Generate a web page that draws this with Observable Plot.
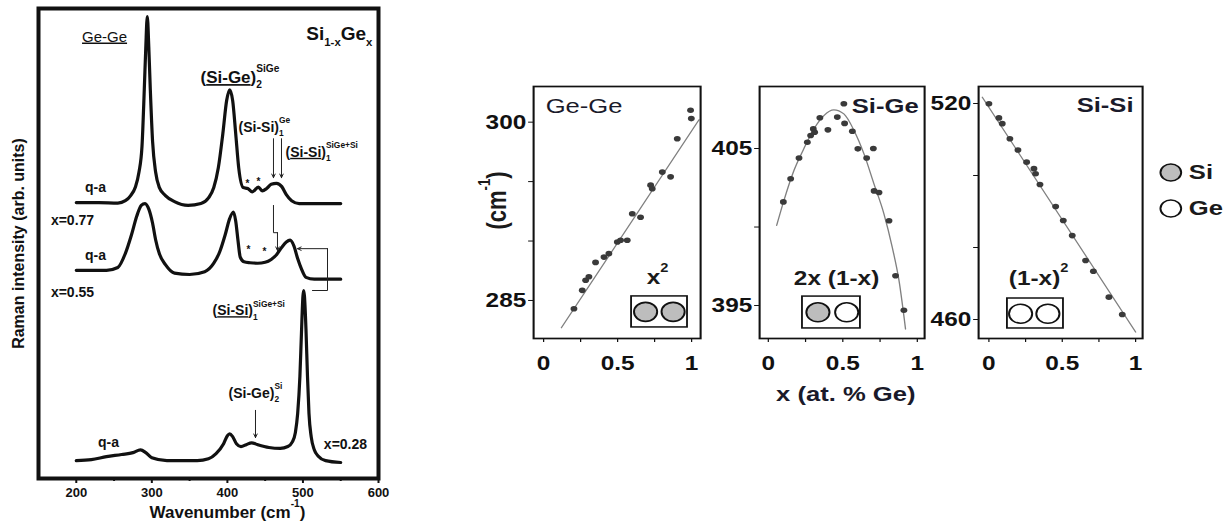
<!DOCTYPE html>
<html><head><meta charset="utf-8">
<script src="https://cdn.jsdelivr.net/npm/d3@7"></script>
<script src="https://cdn.jsdelivr.net/npm/@observablehq/plot@0.6"></script>
<style>
html,body{margin:0;padding:0;background:#fff;}
#fig{position:relative;width:1225px;height:527px;overflow:hidden;background:#fff;}
</style></head>
<body><div id="fig"></div>
<script>
// ---------- Left: Raman spectra of Si(1-x)Ge(x) ----------
const specLabels = ["x=0.77", "x=0.55", "x=0.28"];
const specOffsets = [58.7, 44.3, 3.8];
const wn077 = [200,230,255,265,272,278,283,287,290,292,294,296,298,301,305,310,318,330,348,365,375,382,388,394,399,403,407,411,415,421,427,433,441,446,452,458,465,472,478,485,495,550];
const int077 = [0,0,-0.1,0.4,1.5,3.2,6.5,12,24,33,39.6,33,24,13,6.5,3.2,1.5,0.2,-0.6,-0.2,1.0,3.2,7.4,14.7,21.7,24.0,21.7,14.7,7.4,3.2,3.0,2.3,3.3,2.5,3.0,3.9,4.1,3.4,1.7,0.4,-0.2,-0.2];
const wn055 = [200,240,255,265,273,280,286,291,296,301,305,310,318,330,350,370,382,390,397,403,408,411,414,417,422,430,440,450,458,465,472,478,483,488,493,498,504,515,550];
const int055 = [0,0,0.6,3.6,7.5,11.5,13.8,14.2,13.0,10,6.5,3.5,1.2,-0.6,-0.9,-0.3,1.5,4.0,7.5,11.0,12.4,10.5,6.4,2.8,1.8,1.6,1.5,1.7,2.3,3.3,4.9,6.0,6.4,5.2,2.5,0.3,-1.5,-1.9,-1.9];
const wn028 = [200,220,240,260,275,285,292,300,320,340,360,375,385,395,400,403,407,412,418,425,432,440,455,470,480,486,490,493,496,498,500,501,502,504,506,508,511,515,520,530,550];
const int028 = [0,0.2,0.85,1.3,1.7,2.3,1.7,0.6,0,0,0,0.4,1.5,3.6,5.3,5.7,5.1,3.6,3.0,3.4,3.8,3.4,2.8,2.6,3.0,4.0,6,10,18,27,35,36.2,35,28,18,10,5,2.3,1.0,0,-0.4];
const wnTicks = [200, 300, 400, 500, 600];
const wnMinor = [250, 350, 450, 550];

// ---------- Right: phonon frequency vs composition ----------
const xTicks = [0, 0.25, 0.5, 0.75, 1];
const xTickLabels = [0, 0.5, 1];
// Ge-Ge
const geX = [0.205,0.261,0.284,0.306,0.351,0.408,0.441,0.498,0.52,0.565,0.599,0.655,0.723,0.734,0.802,0.858,0.903,0.993,0.998];
const geY = [284.3,285.85,286.7,287.0,288.2,288.65,288.94,289.92,290.06,290.06,292.3,292.0,294.7,294.4,295.8,295.4,298.6,301.0,300.3];
const geFitX = [0.12, 1.05];
const geFitY = [282.7, 300.2];
const geTicks = [285, 290, 295, 300];
const geTickLabels = [285, 300];
// Si-Ge
const sgX = [0.101,0.150,0.206,0.262,0.284,0.302,0.311,0.346,0.40,0.463,0.507,0.512,0.564,0.601,0.66,0.705,0.71,0.743,0.81,0.854,0.91];
const sgY = [401.6,403.07,404.4,405.4,405.83,406.25,406.04,406.96,406.19,407.0,407.85,406.6,406.1,404.98,404.4,405.0,402.3,402.2,400.4,396.9,394.7];
const sgFitX = [0.056,0.105,0.172,0.239,0.306,0.373,0.44,0.507,0.575,0.642,0.709,0.776,0.832,0.877,0.921];
const sgFitY = [400.1,401.7,403.6,405.0,406.25,407.1,407.46,407.2,406.15,404.66,402.75,400.84,398.7,396.6,393.5];
const sgTicks = [395, 400, 405];
const sgTickLabels = [395, 405];
// Si-Si
const ssX = [0,0.068,0.091,0.143,0.198,0.257,0.307,0.318,0.348,0.455,0.507,0.568,0.659,0.712,0.818,0.909];
const ssY = [519.9,516.0,514.4,510.2,507.1,503.7,501.9,500.5,497.5,491.4,487.5,483.3,476.4,473.4,466.2,461.4];
const ssFitX = [-0.045, 1.0];
const ssFitY = [521.75, 456.5];
const ssTicks = [460, 480, 500, 520];
const ssTickLabels = [460, 520];

const panelTitles = ["Ge-Ge", "Si-Ge", "Si-Si"];
const panelFormulas = ["x<sup>2</sup>", "2x (1-x)", "(1-x)<sup>2</sup>"];
const legendLabels = ["Si", "Ge"];

// ---------- helpers ----------
const FONT = '"Liberation Sans", Arial, Helvetica, sans-serif';
const fig = document.getElementById("fig");
const NS = "http://www.w3.org/2000/svg";
const S = 1.22; // horizontal stretch of the right-hand figure

function place(svg, left, top, sx) {
  svg.style.position = "absolute";
  svg.style.left = left + "px";
  svg.style.top = top + "px";
  svg.style.overflow = "visible";
  if (sx && sx !== 1) { svg.style.transformOrigin = "0 0"; svg.style.transform = `scaleX(${sx})`; }
  fig.appendChild(svg);
}
function richify(root) {
  root.querySelectorAll("text").forEach(t => {
    const s = t.textContent;
    if (!s.includes("<")) return;
    const fs = parseFloat(getComputedStyle(t).fontSize) || 12;
    while (t.firstChild) t.removeChild(t.firstChild);
    const re = /<(u|sub|sup)>(.*?)<\/\1>|([^<]+)/g;
    let m, shift = 0, prev = null, subW = 0;
    while ((m = re.exec(s))) {
      const tag = m[1] || null, str = m[3] !== undefined ? m[3] : m[2];
      const ts = document.createElementNS(NS, "tspan");
      ts.textContent = str;
      let target = 0;
      if (tag === "sub") target = 0.32 * fs;
      if (tag === "sup") target = -0.62 * fs;
      if (tag === "sub" || tag === "sup") ts.setAttribute("font-size", (0.6 * fs).toFixed(1));
      if (tag === "u") ts.setAttribute("text-decoration", "underline");
      if (Math.abs(target - shift) > 1e-6) ts.setAttribute("dy", (target - shift).toFixed(2));
      if (tag === "sup" && prev === "sub") ts.setAttribute("dx", (-subW).toFixed(2));
      t.appendChild(ts);
      if (tag === "sub") subW = ts.getComputedTextLength();
      shift = target; prev = tag;
    }
  });
}

// ---------- left plot ----------
const rows = [];
[[wn077, int077], [wn055, int055], [wn028, int028]].forEach(([w, v], k) =>
  w.forEach((x, i) => rows.push({s: specLabels[k], wn: x, I: specOffsets[k] + v[i]})));

const T = (text, x, y, o = {}) => Plot.text([text], {x: () => x, y: () => y, text: d => d,
  fontSize: o.size ?? 14, fontWeight: o.weight ?? "bold", textAnchor: o.anchor ?? "start", fill: "#111"});
const arrow = (x1, y1, x2, y2) => Plot.arrow([0], {x1: () => x1, y1: () => y1, x2: () => x2, y2: () => y2,
  stroke: "#222", strokeWidth: 1, headLength: 6, headAngle: 50});
const seg = (pts) => Plot.line(pts, {x: d => d[0], y: d => d[1], stroke: "#222", strokeWidth: 1});

const left = Plot.plot({
  width: 400, height: 527,
  marginLeft: 38, marginRight: 22, marginTop: 8, marginBottom: 49,
  x: {domain: [150, 600]},
  y: {domain: [0, 100], axis: null},
  style: {fontFamily: FONT, background: "transparent", color: "#111"},
  marks: [
    Plot.line(rows, {x: "wn", y: "I", z: "s", curve: "monotone-x", stroke: "#111", strokeWidth: 3.2}),
    Plot.axisX({ticks: wnTicks, tickSize: 5, tickPadding: 4, fontSize: 13, fontWeight: "bold", label: null, strokeWidth: 2}),
    Plot.axisX({ticks: wnMinor, tickSize: 3, tickFormat: () => "", label: null, strokeWidth: 2}),
    Plot.frame({stroke: "#111", strokeWidth: 4}),
    Plot.text(["Wavenumber (cm<sup>-1</sup>)"], {frameAnchor: "bottom", textAnchor: "middle", dx: 19, dy: 39, fontSize: 17, fontWeight: "bold", fill: "#111"}),
    Plot.text(["Raman intensity (arb. units)"], {frameAnchor: "left", textAnchor: "middle", dx: -20, rotate: -90, fontSize: 16, fontWeight: "bold", fill: "#111"}),
    T("<u>Ge-Ge</u>", 237.4, 94.0, {size: 15, weight: "normal", anchor: "middle"}),
    T("Si<sub>1-x</sub>Ge<sub>x</sub>", 592, 94.7, {size: 19, anchor: "end"}),
    T("(<u>Si-Ge</u>)<sub>2</sub><sup>SiGe</sup>", 364.4, 85.3, {size: 17}),
    T("(Si-Si)<sub>1</sub><sup>Ge</sup>", 414.7, 74.7, {size: 14}),
    T("(<u>Si-Si</u>)<sub>1</sub><sup>SiGe+Si</sup>", 476.9, 69.4, {size: 14}),
    T("q-a", 225.4, 61.9, {size: 14, anchor: "middle"}),
    T("x=0.77", 195.0, 54.9, {size: 14, anchor: "middle"}),
    T("q-a", 225.4, 47.4, {size: 14, anchor: "middle"}),
    T("x=0.55", 195.0, 39.6, {size: 14, anchor: "middle"}),
    T("(<u>Si-Si</u>)<sub>1</sub><sup>SiGe+Si</sup>", 380.3, 35.7, {size: 14}),
    T("(Si-Ge)<sub>2</sub><sup>Si</sup>", 401.5, 18.1, {size: 14}),
    T("q-a", 242.6, 7.7, {size: 14, anchor: "middle"}),
    T("x=0.28", 556.3, 7.2, {size: 14, anchor: "middle"}),
    T("*", 426.6, 62.6, {size: 10, anchor: "middle"}),
    T("*", 441.2, 63.2, {size: 10, anchor: "middle"}),
    T("*", 427.9, 48.7, {size: 10, anchor: "middle"}),
    T("*", 449.1, 48.3, {size: 10, anchor: "middle"}),
    arrow(461, 72.3, 461, 64.0),
    arrow(471.6, 72.3, 471.6, 64.0),
    seg([[461, 58.1], [461, 52.3], [466.3, 52.3]]),
    arrow(466.3, 52.3, 466.3, 48.5),
    arrow(532.5, 48.9, 492.8, 48.9),
    seg([[532.5, 48.9], [532.5, 40.0], [512.6, 40.0]]),
    arrow(437.2, 14.5, 437.2, 8.7)
  ]
});
place(left, 0, 0);

// ---------- right panels ----------
function rpanel(o) {
  const W = o.width;
  const mL = (o.frameL - o.left) / S, mR = W - (o.frameR - o.left) / S;
  const pts = o.px.map((x, i) => ({x, y: o.py[i]}));
  const fit = o.fx.map((x, i) => ({x, y: o.fy[i]}));
  return Plot.plot({
    width: W, height: 400,
    marginLeft: mL, marginRight: mR, marginTop: 86, marginBottom: 62,
    x: {domain: o.xDom}, y: {domain: o.yDom},
    style: {fontFamily: FONT, background: "transparent", color: "#111"},
    marks: [
      Plot.axisY({ticks: o.yTicks, tickFormat: d => o.yLab.includes(d) ? String(d) : "", tickSize: 4, tickPadding: 2,
        fontSize: 20, fontWeight: "bold", label: null}),
      Plot.axisX({ticks: xTicks, tickFormat: d => xTickLabels.includes(d) ? String(d) : "", tickSize: 4, tickPadding: 13,
        fontSize: 20, fontWeight: "bold", label: null}),
      Plot.line(fit, {x: "x", y: "y", curve: o.curve, stroke: "#808080", strokeWidth: 1.1}),
      Plot.dot(pts, {x: "x", y: "y", r: 2.8, fill: "#3a3a3a"}),
      Plot.frame({stroke: "#111", strokeWidth: 1.7}),
      Plot.text([o.title], {x: () => o.tx, y: () => o.ty, text: d => d, textAnchor: o.tAnchor,
        fontSize: 21, fontWeight: o.tWeight, fill: "#1a1a2a"}),
      Plot.text([o.formula], {x: () => o.fX, y: () => o.fY, text: d => d, textAnchor: "middle",
        fontSize: 20, fontWeight: "bold", fill: "#1a1a1a"}),
      Plot.rect([o.box], {x1: "x1", x2: "x2", y1: "y1", y2: "y2", fill: "none", stroke: "#111", strokeWidth: 1.5}),
      Plot.dot(o.grayC, {x: d => d, y: () => o.cy, r: 9.5, fill: "#bdbdbd", stroke: "#111", strokeWidth: 1.6}),
      Plot.dot(o.whiteC, {x: d => d, y: () => o.cy, r: 9.5, fill: "white", stroke: "#111", strokeWidth: 1.6}),
      ...(o.extra || [])
    ]
  });
}

const p1 = rpanel({
  left: 480, width: 200, frameL: 533, frameR: 700,
  xDom: [-0.0676, 1.0608], yDom: [281.8, 303.0],
  yTicks: geTicks, yLab: geTickLabels,
  px: geX, py: geY, fx: geFitX, fy: geFitY, curve: "linear",
  title: panelTitles[0], tx: 0.014, ty: 301.3, tAnchor: "start", tWeight: "normal",
  formula: panelFormulas[0], fX: 0.77, fY: 286.9,
  box: {x1: 0.595, x2: 0.973, y1: 282.73, y2: 285.34}, cy: 284.04, grayC: [0.689, 0.875], whiteC: [],
  extra: [
    Plot.text(["(cm<sup>-1</sup>)"], {frameAnchor: "left", textAnchor: "middle", dx: -29.5, dy: -12, rotate: -90, fontSize: 22, fontWeight: "bold", fill: "#1a1a1a"})
  ]
});
const p2 = rpanel({
  left: 700, width: 200, frameL: 759, frameR: 924,
  xDom: [-0.0584, 1.049], yDom: [392.9, 408.95],
  yTicks: sgTicks, yLab: sgTickLabels,
  px: sgX, py: sgY, fx: sgFitX, fy: sgFitY, curve: "monotone-x",
  title: panelTitles[1], tx: 1.009, ty: 407.7, tAnchor: "end", tWeight: "bold",
  formula: panelFormulas[1], fX: 0.458, fY: 396.72,
  box: {x1: 0.230, x2: 0.619, y1: 393.54, y2: 395.57}, cy: 394.57, grayC: [0.333], whiteC: [0.526],
  extra: [
    Plot.text(["x (at. % Ge)"], {frameAnchor: "bottom", textAnchor: "middle", dx: 3, dy: 62, fontSize: 21, fontWeight: "bold", fill: "#1a1a2a"})
  ]
});
const p3 = rpanel({
  left: 920, width: 250, frameL: 978, frameR: 1142,
  xDom: [-0.0702, 1.0477], yDom: [454.72, 524.72],
  yTicks: ssTicks, yLab: ssTickLabels,
  px: ssX, py: ssY, fx: ssFitX, fy: ssFitY, curve: "linear",
  title: panelTitles[2], tx: 0.986, ty: 519.4, tAnchor: "end", tWeight: "bold",
  formula: panelFormulas[2], fX: 0.339, fY: 471.4,
  box: {x1: 0.127, x2: 0.509, y1: 457.5, y2: 465.83}, cy: 461.6, grayC: [], whiteC: [0.216, 0.402],
  extra: [
    Plot.dot([legendLabels[0]], {x: () => 1.24, y: () => 500.83, r: 8.5, fill: "#bdbdbd", stroke: "#111", strokeWidth: 1.6}),
    Plot.dot([legendLabels[1]], {x: () => 1.24, y: () => 490.83, r: 8.5, fill: "white", stroke: "#111", strokeWidth: 1.6}),
    Plot.text(legendLabels, {x: () => 1.363, y: (d, i) => [500.83, 490.83][i], text: d => d, textAnchor: "start",
      fontSize: 21, fontWeight: "bold", fill: "#1a1a1a"})
  ]
});
place(p1, 480, 0, S);
place(p2, 700, 0, S);
place(p3, 920, 0, S);

[left, p1, p2, p3].forEach(richify);
</script></body></html>
